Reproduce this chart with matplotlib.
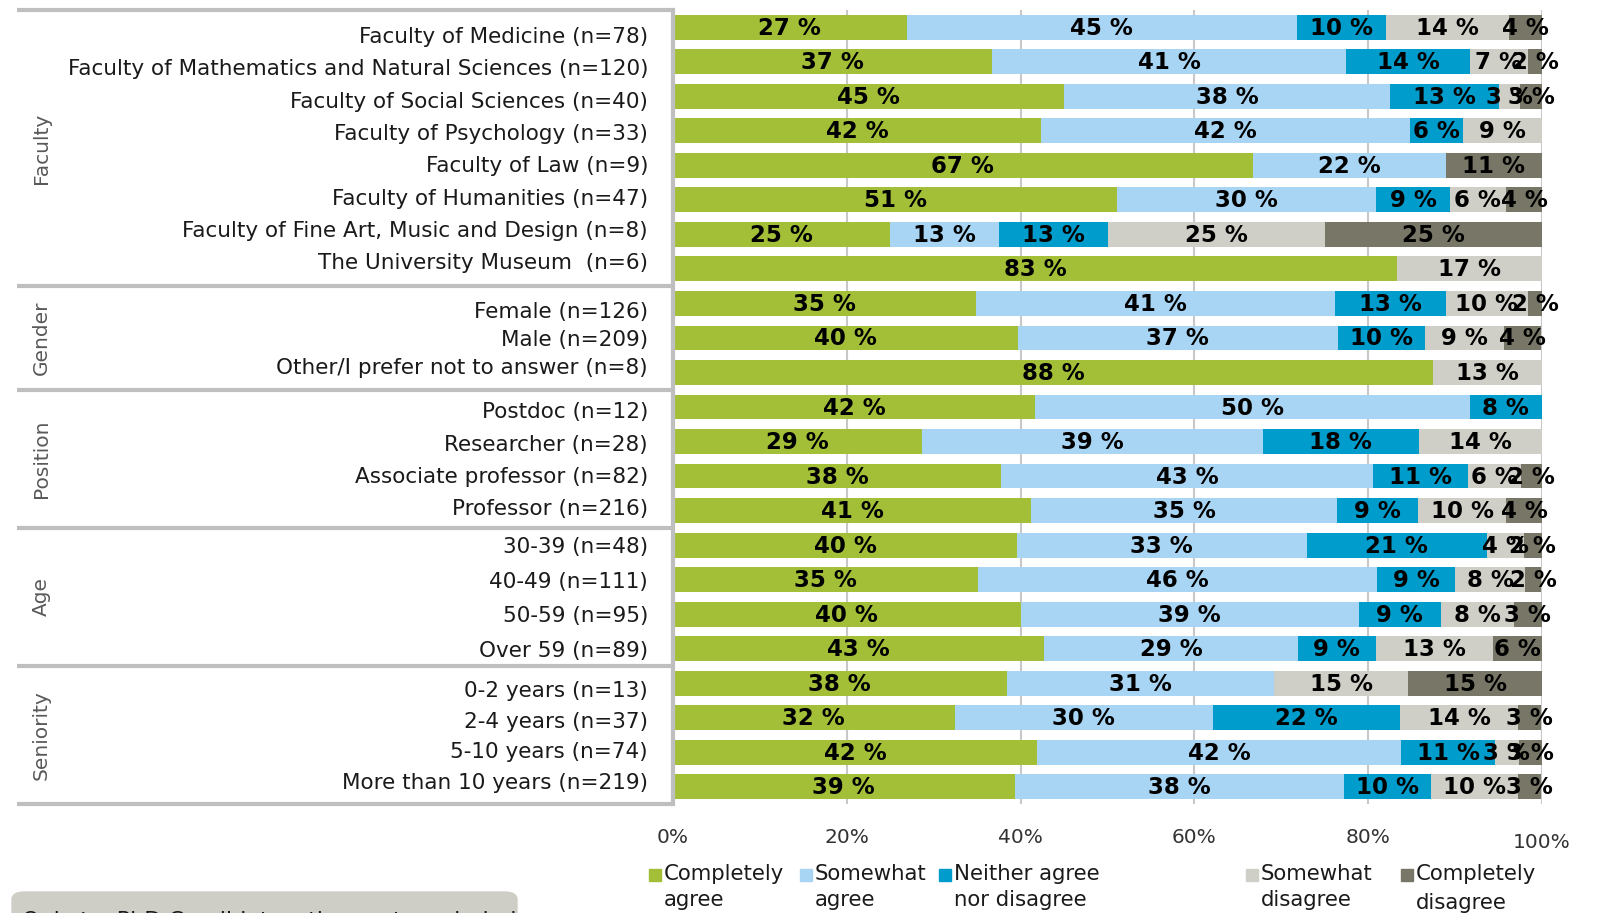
import numpy as np
import matplotlib
matplotlib.use("Agg")
import matplotlib.pyplot as plt
from matplotlib.patches import Rectangle, FancyBboxPatch

# groups and rows (top to bottom)
groups = ["Faculty", "Gender", "Position", "Age", "Seniority"]
group_sizes = [8, 3, 4, 4, 4]

categories = [
    "Faculty of Medicine (n=78)",
    "Faculty of Mathematics and Natural Sciences (n=120)",
    "Faculty of Social Sciences (n=40)",
    "Faculty of Psychology (n=33)",
    "Faculty of Law (n=9)",
    "Faculty of Humanities (n=47)",
    "Faculty of Fine Art, Music and Design (n=8)",
    "The University Museum  (n=6)",
    "Female (n=126)",
    "Male (n=209)",
    "Other/I prefer not to answer (n=8)",
    "Postdoc (n=12)",
    "Researcher (n=28)",
    "Associate professor (n=82)",
    "Professor (n=216)",
    "30-39 (n=48)",
    "40-49 (n=111)",
    "50-59 (n=95)",
    "Over 59 (n=89)",
    "0-2 years (n=13)",
    "2-4 years (n=37)",
    "5-10 years (n=74)",
    "More than 10 years (n=219)",
]

series = ["Completely\nagree", "Somewhat\nagree", "Neither agree\nnor disagree",
          "Somewhat\ndisagree", "Completely\ndisagree"]

completely_agree = [26.9, 36.7, 45.0, 42.4, 66.7, 51.1, 25.0, 83.3, 34.9, 39.7, 87.5,
                    41.7, 28.6, 37.8, 41.2, 39.6, 35.1, 40.0, 42.7, 38.4, 32.4, 41.9, 39.3]
somewhat_agree = [44.9, 40.8, 37.5, 42.4, 22.2, 29.8, 12.5, 0, 41.3, 36.8, 0,
                  50.0, 39.3, 42.7, 35.2, 33.3, 45.9, 38.9, 29.2, 30.8, 29.7, 41.9, 37.9]
neither = [10.3, 14.2, 12.5, 6.1, 0, 8.5, 12.5, 0, 12.7, 10.0, 0,
           8.3, 17.9, 11.0, 9.3, 20.8, 9.0, 9.47, 9.0, 0, 21.6, 10.8, 10.0]
somewhat_disagree = [14.1, 6.7, 2.5, 9.1, 0, 6.4, 25.0, 16.7, 9.5, 9.1, 12.5,
                     0, 14.3, 6.1, 10.2, 4.2, 8.1, 8.4, 13.48, 15.4, 13.5, 2.7, 10.0]
completely_disagree = [3.8, 1.7, 2.5, 0, 11.1, 4.3, 25.0, 0, 1.6, 4.3, 0,
                       0, 0, 2.4, 4.2, 2.1, 1.8, 3.2, 5.6, 15.4, 2.7, 2.7, 2.7]

colors = ["#A2BF37", "#A9D5F4", "#009CCB", "#D0CFC7", "#787767"]
line_gray = "#BFBFBF"
# row labels sit a bit tighter than the bars inside each group
label_spacing = [0.935, 0.81, 0.94, 1.0, 0.88]

W, H = 1601, 913
fig = plt.figure(figsize=(W / 100, H / 100), dpi=100)
ax = fig.add_axes([673 / W, 1 - 804 / H, (1542 - 673) / W, (804 - 10) / H])

data = np.array([completely_agree, somewhat_agree, neither,
                 somewhat_disagree, completely_disagree])
y = np.arange(len(categories))
left = np.zeros(len(categories))
for vals, col in zip(data, colors):
    ax.barh(y, vals, left=left, height=0.72, color=col, zorder=2)
    for yi, l, v in zip(y, left, vals):
        if v > 0:
            ax.text(l + v / 2, yi + 0.03, f"{int(np.floor(v + 0.5))} %", ha="center", va="center",
                    fontsize=16.5, fontweight="bold", color="black", zorder=3)
    left = left + vals

ax.set_xlim(0, 100)
ax.set_ylim(len(categories) - 0.5, -0.5)
ax.set_xticks(np.arange(0, 101, 20))
ax.set_xticklabels([f"{t}%" for t in range(0, 101, 20)])
ax.tick_params(axis="x", length=0, pad=17, labelsize=14.5, labelcolor="#333333")
ax.get_xticklabels()[-1].set_y(-0.007)

# label positions inside each group
bounds = np.concatenate([[0], np.cumsum(group_sizes)]) - 0.5
label_y = []
for lo, n, f in zip(bounds[:-1], group_sizes, label_spacing):
    c = lo + n / 2
    label_y += [c + (k - (n - 1) / 2) * f for k in range(n)]
ax.set_yticks(label_y)
ax.set_yticklabels(categories)
ax.tick_params(axis="y", length=0, pad=18, labelsize=15.5, labelcolor="#1a1a1a")
ax.grid(axis="x", color="#C8C8C8", lw=1.5, zorder=0)
ax.grid(axis="y", visible=False)
ax.set_axisbelow(True)
for s in ["top", "right", "bottom"]:
    ax.spines[s].set_visible(False)
ax.spines["left"].set_color(line_gray)
ax.spines["left"].set_linewidth(3)
ax.spines["left"].set_zorder(4)

# group separators and group names
trans = ax.get_yaxis_transform()
for b in bounds:
    ax.plot([-0.755, 0], [b, b], transform=trans, clip_on=False,
            color=line_gray, lw=3, solid_capstyle="butt")
for g, lo, hi in zip(groups, bounds[:-1], bounds[1:]):
    ax.text(-0.727, (lo + hi) / 2, g, transform=trans, rotation=90,
            ha="center", va="center", fontsize=14.5, color="#595959")

# legend
leg_x = [649, 800, 939, 1246, 1401]
leg_ls = [1.35, 1.35, 1.35, 1.35, 1.55]
for name, col, lx, ls in zip(series, colors, leg_x, leg_ls):
    fig.add_artist(Rectangle((lx / W, 1 - 881 / H), 12 / W, 12 / H,
                             transform=fig.transFigure, color=col))
    fig.text((lx + 15) / W, 1 - 864 / H, name, ha="left", va="top",
             fontsize=15.3, color="#1a1a1a", linespacing=ls)

# note box at the bottom (cut off)
fig.add_artist(FancyBboxPatch((12 / W, 1 - 960 / H), 505 / W, 68 / H,
                              boxstyle="round,pad=0,rounding_size=0.008",
                              transform=fig.transFigure, color="#CFCEC6"))
fig.text(22 / W, 1 - 911 / H, "Only to  PhD Candidates  the  rest  excluded",
         ha="left", va="top", fontsize=16, color="#1a1a1a")

fig.savefig("out.png", dpi=100)
